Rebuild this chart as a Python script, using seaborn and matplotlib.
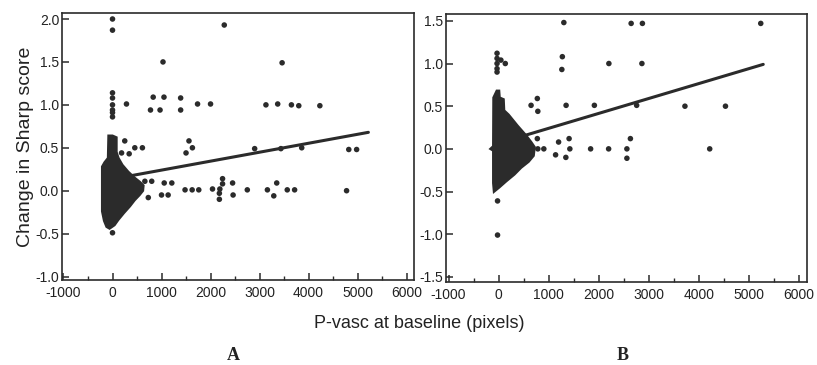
import numpy as np
import pandas as pd
import matplotlib
matplotlib.use("Agg")
import matplotlib.pyplot as plt
import seaborn as sns
from matplotlib.ticker import MultipleLocator, FormatStrFormatter

# ─────────────────────────────────────────────
# DATA
# ─────────────────────────────────────────────
# Panel A – scattered points outside the dense cluster
a_x = [0, 0, 2280, 1030, 3460,
       0, 0, 0, 0, 0, 0, 285,
       830, 775, 1050, 970, 1390, 1390, 1735, 2000, 3130, 3370, 3650, 3800, 4230,
       250, 185, 340, 455, 610, 1560, 1630, 1500, 2900, 3435, 3860, 4820, 4980,
       660, 800, 730, 1055, 1210, 1000, 1135, 1480, 1625, 1760, 2040,
       2245, 2245, 2190, 2180, 2180, 2450, 2460, 2750, 3160, 3350, 3290, 3565, 3715, 4775,
       0]
a_y = [2.00, 1.87, 1.93, 1.50, 1.49,
       1.14, 1.08, 1.00, 0.94, 0.91, 0.86, 1.01,
       1.09, 0.94, 1.09, 0.94, 1.08, 0.94, 1.01, 1.01, 1.00, 1.01, 1.00, 0.99, 0.99,
       0.58, 0.44, 0.43, 0.50, 0.50, 0.58, 0.50, 0.44, 0.49, 0.49, 0.50, 0.48, 0.48,
       0.11, 0.11, -0.08, 0.09, 0.09, -0.05, -0.05, 0.01, 0.01, 0.01, 0.02,
       0.14, 0.08, 0.02, -0.03, -0.10, 0.09, -0.05, 0.01, 0.01, 0.09, -0.06, 0.01, 0.01, 0.00,
       -0.49]

# Panel A – outline of the dense cluster of overlapping points near zero
a_blob_x = [-80, 0, 80, 80, 120, 200, 320, 450, 560, 630, 620, 550, 450, 355, 230,
            115, 40, -60, -120, -170, -210, -210, -160, -90]
a_blob_y = [0.64, 0.64, 0.62, 0.45, 0.38, 0.30, 0.22, 0.15, 0.10, 0.06, 0.00, -0.05,
            -0.11, -0.18, -0.26, -0.34, -0.40, -0.44, -0.42, -0.35, -0.24, 0.28, 0.33, 0.38]

# Panel A – regression line
a_line_x = [330, 5220]
a_line_y = [0.17, 0.68]

# Panel B – scattered points
b_x = [1305, 2650, 2875, 5240,
       -30, -30, -30, -30, -30, 47, 135,
       1275, 1265, 2205, 2865,
       650, 775, 785, 1350, 1915, 2760, 3725, 4535,
       775, 785, 905, 1140, 1200, 1410, 1425, 1345, 1840, 2200, 2565, 2565, 2635, 4220,
       -20, -20]
b_y = [1.48, 1.47, 1.47, 1.47,
       1.12, 1.06, 1.00, 0.94, 0.90, 1.04, 1.00,
       1.08, 0.93, 1.00, 1.00,
       0.51, 0.59, 0.44, 0.51, 0.51, 0.51, 0.50, 0.50,
       0.12, 0.00, 0.00, -0.07, 0.08, 0.12, 0.00, -0.10, 0.00, 0.00, 0.00, -0.11, 0.12, 0.00,
       -0.61, -1.01]

b_blob_x = [-35, 10, 20, 100, 110, 200, 380, 545, 650, 720, 700, 600, 450, 315, 150,
            15, -90, -105, -105, -160, -105, -100]
b_blob_y = [0.68, 0.68, 0.60, 0.58, 0.45, 0.40, 0.27, 0.16, 0.08, 0.02, -0.08, -0.15,
            -0.22, -0.30, -0.38, -0.45, -0.50, -0.40, -0.02, 0.00, 0.03, 0.60]

b_line_x = [540, 5290]
b_line_y = [0.16, 0.99]

X_LABEL = "P-vasc at baseline (pixels)"
Y_LABEL = "Change in Sharp score"
PANEL_LABELS = ["A", "B"]
# ─────────────────────────────────────────────

sns.set_style("white")
plt.rcParams["font.family"] = ["Liberation Sans", "DejaVu Sans"]
plt.rcParams["axes.unicode_minus"] = False

INK = "#2b2b2b"
TXT = "#222222"

fig = plt.figure(figsize=(8.17, 3.65), dpi=100)
ax_a = fig.add_axes([0.0759, 0.2329, 0.4308, 0.7315])
ax_b = fig.add_axes([0.5459, 0.2274, 0.4419, 0.7342])

panels = [
    (ax_a, a_x, a_y, a_blob_x, a_blob_y, a_line_x, a_line_y, (-1030, 6150), (-1.04, 2.07)),
    (ax_b, b_x, b_y, b_blob_x, b_blob_y, b_line_x, b_line_y, (-1050, 6165), (-1.56, 1.58)),
]

for ax, px, py, bx, by, lx, ly, xlim, ylim in panels:
    pts = pd.DataFrame({"x": px, "y": py})
    ax.fill(bx, by, color=INK, lw=1.8, edgecolor=INK, zorder=2)
    sns.scatterplot(data=pts, x="x", y="y", ax=ax, s=16, color=INK,
                    edgecolor="none", linewidth=0, zorder=3)
    sns.lineplot(x=lx, y=ly, ax=ax, color=INK, lw=2.2, zorder=4)
    ax.set_xlim(*xlim)
    ax.set_ylim(*ylim)
    ax.xaxis.set_major_locator(MultipleLocator(1000))
    ax.xaxis.set_minor_locator(MultipleLocator(500))
    ax.yaxis.set_major_locator(MultipleLocator(0.5))
    ax.yaxis.set_major_formatter(FormatStrFormatter("%.1f"))
    ax.tick_params(axis="both", which="major", direction="in", length=5, width=1.1,
                   color=INK, labelsize=10, labelcolor=TXT, bottom=True, left=True)
    ax.tick_params(axis="x", which="minor", direction="in", length=3, width=1.0,
                   color=INK, bottom=True)
    ax.tick_params(axis="x", which="major", pad=4)
    ax.tick_params(axis="y", pad=2)
    ax.set_xlabel("")
    ax.set_ylabel("")
    for sp in ax.spines.values():
        sp.set_color(INK)
        sp.set_linewidth(1.2)

ax_a.set_ylabel(Y_LABEL, fontsize=14, color=TXT, labelpad=1)

fig.text(0.513, 1 - 323 / 365, X_LABEL, ha="center", va="center", fontsize=13, color=TXT)
for lab, xpix in zip(PANEL_LABELS, [233, 623]):
    fig.text(xpix / 817, 1 - 355 / 365, lab, ha="center", va="center", fontsize=13,
             fontweight="bold", family=["Liberation Serif", "DejaVu Serif"], color=TXT)

fig.savefig("out.png", dpi=100)
plt.close(fig)
